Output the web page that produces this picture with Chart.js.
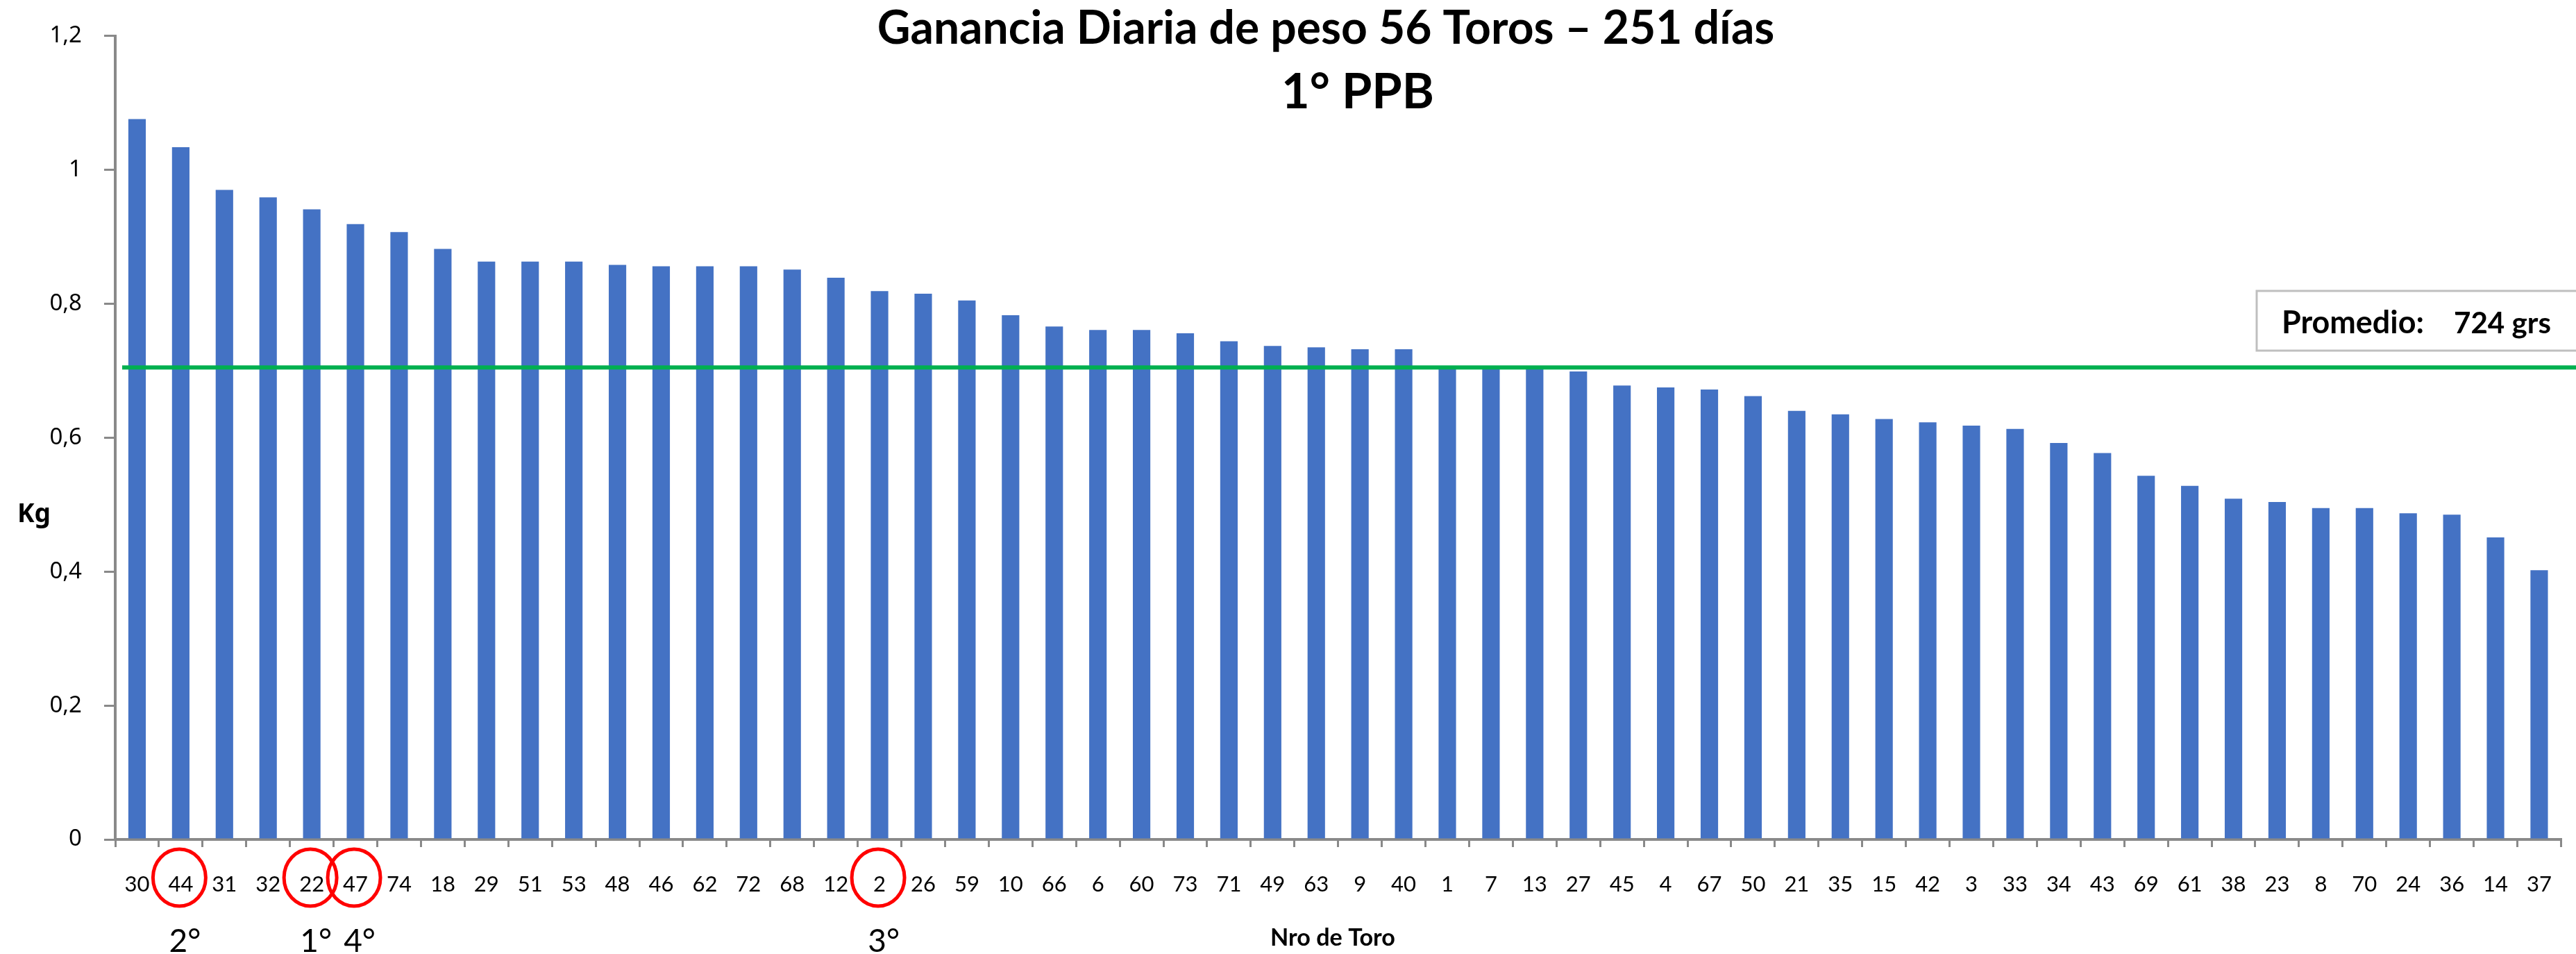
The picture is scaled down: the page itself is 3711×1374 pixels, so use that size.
<!DOCTYPE html>
<html><head><meta charset="utf-8">
<script src="https://cdn.jsdelivr.net/npm/chart.js@4.4.0/dist/chart.umd.min.js"></script>
<style>html,body{margin:0;padding:0;background:#fff;overflow:hidden}#wrap{width:3711px;height:1374px;position:relative}</style>
</head><body><div id="wrap"><canvas id="c" width="3711" height="1374"></canvas></div>
<script>
const categories = ['30','44','31','32','22','47','74','18','29','51','53','48','46','62','72','68','12','2','26','59','10','66','6','60','73','71','49','63','9','40','1','7','13','27','45','4','67','50','21','35','15','42','3','33','34','43','69','61','38','23','8','70','24','36','14','37'];
const gains = [1.076,1.034,0.970,0.959,0.941,0.919,0.907,0.882,0.863,0.863,0.863,0.858,0.856,0.856,0.856,0.851,0.839,0.819,0.815,0.805,0.783,0.766,0.761,0.761,0.756,0.744,0.737,0.735,0.732,0.732,0.702,0.702,0.702,0.699,0.678,0.675,0.672,0.662,0.640,0.635,0.628,0.623,0.618,0.613,0.592,0.577,0.543,0.528,0.509,0.504,0.495,0.495,0.487,0.485,0.451,0.402];
const yTickLabels = ['0','0,2','0,4','0,6','0,8','1','1,2'];
const averageLine = 0.705;
const averageLabel = 'Promedio:';
const averageValue = '724 grs';
const highlighted = ['22','44','2','47'];
const ranks = ['1°','2°','3°','4°'];
const titleLines = ['Ganancia Diaria de peso 56 Toros – 251 días', '1° PPB'];
const xTitle = 'Nro de Toro';
const yTitle = 'Kg';

function fitFont(ctx, text, weight, family, target) {
  ctx.font = weight + ' 100px ' + family;
  const w = ctx.measureText(text).width;
  const size = 100 * target / w;
  ctx.font = weight + ' ' + size.toFixed(2) + 'px ' + family;
  return size;
}

const overlay = {
  id: 'overlay',
  afterDatasetsDraw(chart) {
    const ctx = chart.ctx;
    const ys = chart.scales.y;
    const yAvg = ys.getPixelForValue(averageLine);
    ctx.save();
    ctx.strokeStyle = '#00B050';
    ctx.lineWidth = 6;
    ctx.beginPath();
    ctx.moveTo(176, yAvg);
    ctx.lineTo(3711, yAvg);
    ctx.stroke();
    ctx.restore();
  },
  afterDraw(chart) {
    const ctx = chart.ctx;
    const xs = chart.scales.x;
    ctx.save();
    ctx.fillStyle = '#000';
    ctx.textBaseline = 'alphabetic';
    ctx.textAlign = 'center';
    fitFont(ctx, titleLines[0], 'bold', 'Lato', 1293);
    ctx.fillText(titleLines[0], 1910, 63);
    fitFont(ctx, titleLines[1], 'bold', 'Lato', 220);
    ctx.fillText(titleLines[1], 1956, 156);
    ctx.fillStyle = '#fff';
    ctx.fillRect(3251, 419, 480, 86);
    ctx.strokeStyle = '#BFBFBF';
    ctx.lineWidth = 3;
    ctx.strokeRect(3251, 419, 480, 86);
    ctx.fillStyle = '#000';
    ctx.textAlign = 'left';
    fitFont(ctx, averageLabel, 'bold', 'Lato', 205);
    ctx.fillText(averageLabel, 3287, 480);
    fitFont(ctx, averageValue, 'bold', 'Lato', 140);
    ctx.fillText(averageValue, 3535, 480);
    ctx.textAlign = 'center';
    fitFont(ctx, xTitle, 'bold', 'Lato', 180);
    ctx.fillText(xTitle, 1920, 1362);
    ctx.textAlign = 'left';
    fitFont(ctx, yTitle, 'bold', '"Noto Sans"', 48);
    ctx.fillText(yTitle, 25, 752);
    highlighted.forEach((cat, i) => {
      const idx = categories.indexOf(cat);
      const cx = xs.getPixelForValue(idx);
      ctx.strokeStyle = '#FF0000';
      ctx.lineWidth = 5;
      ctx.beginPath();
      ctx.ellipse(cx - 2, 1264, 38, 41, 0, 0, Math.PI * 2);
      ctx.stroke();
      ctx.fillStyle = '#000';
      ctx.textAlign = 'center';
      ctx.font = '46px Lato';
      ctx.fillText(ranks[i], cx + 6, 1371);
    });
    ctx.restore();
  }
};

new Chart(document.getElementById('c'), {
  type: 'bar',
  data: {
    labels: categories,
    datasets: [{
      data: gains,
      backgroundColor: '#4472C4',
      borderWidth: 0,
      barPercentage: 0.4,
      categoryPercentage: 1.0
    }]
  },
  options: {
    responsive: false,
    animation: false,
    devicePixelRatio: 1,
    layout: { padding: { top: 38, right: 6, left: 0, bottom: 0 } },
    plugins: { legend: { display: false }, title: { display: false }, tooltip: { enabled: false } },
    scales: {
      x: {
        offset: true,
        grid: { offset: true, drawOnChartArea: false, drawTicks: true, tickLength: 11, color: '#898989', lineWidth: 3 },
        border: { color: '#898989', width: 4 },
        ticks: { font: { family: 'Lato', size: 31 }, color: '#000', padding: 35, maxRotation: 0, autoSkip: false },
        afterFit(s) { s.height = 165; }
      },
      y: {
        min: 0, max: 1.2,
        grid: { drawOnChartArea: false, drawTicks: true, tickLength: 16, color: '#898989', lineWidth: 3 },
        border: { color: '#898989', width: 4 },
        ticks: {
          stepSize: 0.2, padding: 32, color: '#000',
          font: { family: 'Noto Sans', size: 33 },
          callback: (v) => yTickLabels[Math.round(v / 0.2)]
        },
        afterFit(s) { s.width = 166; }
      }
    }
  },
  plugins: [overlay]
});
</script></body></html>
